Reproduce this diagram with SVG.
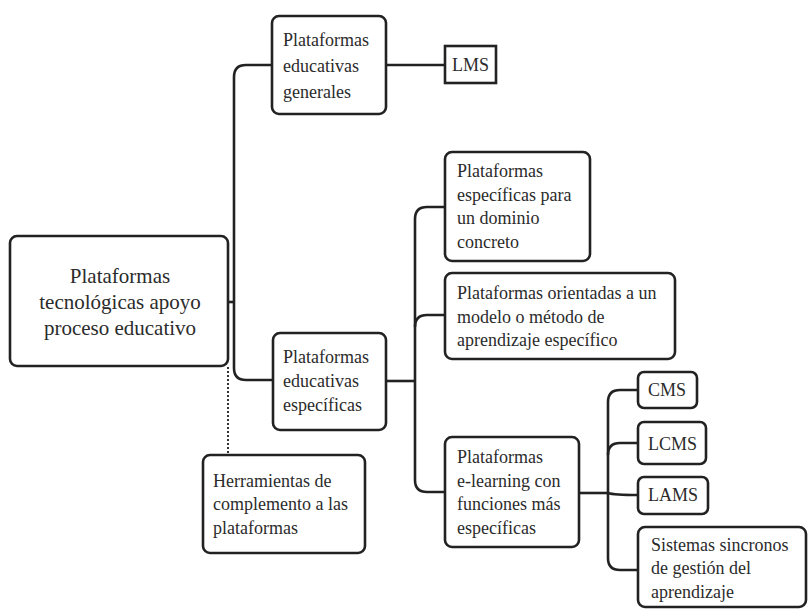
<svg xmlns="http://www.w3.org/2000/svg" width="812" height="610" viewBox="0 0 812 610">
<style>
.box{fill:#fff;stroke:#222;stroke-width:2.6}
.con{fill:none;stroke:#222;stroke-width:2.6}
.dot{fill:none;stroke:#333;stroke-width:2;stroke-dasharray:2 2}
text{font-family:"Liberation Serif","Times New Roman",serif;font-size:18px;fill:#2b2b2b}
.root{font-size:21px;text-anchor:middle}
</style>
<rect width="812" height="610" fill="#fff"/>
<g id="connectors">
<path class="con" d="M228,302 H234"/>
<path class="con" d="M273,65 H246 Q234,65 234,77 V368 Q234,380 246,380 H273"/>
<path class="dot" d="M228,367 V455"/>
<path class="con" d="M386,65 H445"/>
<path class="con" d="M386,381 H415"/>
<path class="con" d="M445,207 H427 Q415,207 415,219 V480 Q415,492 427,492 H445"/>
<path class="con" d="M445,315 H427 Q415,315 415,327"/>
<path class="con" d="M579,493 H608"/>
<path class="con" d="M638,390 H620 Q608,390 608,402 V558 Q608,570 620,570 H638"/>
<path class="con" d="M638,443 H620 Q608,443 608,455"/>
<path class="con" d="M608,493 Q614,495 638,495"/>
</g>
<g id="root">
<rect class="box" x="10" y="236" width="218" height="130" rx="7"/>
<text class="root" x="120" y="283">Plataformas</text>
<text class="root" x="120" y="309">tecnológicas apoyo</text>
<text class="root" x="120" y="335">proceso educativo</text>
</g>
<g id="generales">
<rect class="box" x="272" y="16" width="114" height="98" rx="7"/>
<text x="283" y="46">Plataformas</text>
<text x="283" y="72">educativas</text>
<text x="283" y="98">generales</text>
</g>
<g id="lms">
<rect class="box" x="445" y="46" width="51" height="37"/>
<text x="470.5" y="71" text-anchor="middle">LMS</text>
</g>
<g id="especificas">
<rect class="box" x="273" y="333" width="113" height="97" rx="7"/>
<text x="283" y="363">Plataformas</text>
<text x="283" y="387">educativas</text>
<text x="283" y="411">específicas</text>
</g>
<g id="herramientas">
<rect class="box" x="203" y="455" width="162" height="98" rx="7"/>
<text x="213" y="487">Herramientas de</text>
<text x="213" y="510">complemento a las</text>
<text x="213" y="534">plataformas</text>
</g>
<g id="dominio">
<rect class="box" x="445" y="152" width="145" height="109" rx="7"/>
<text x="457" y="177">Plataformas</text>
<text x="457" y="201">específicas para</text>
<text x="457" y="224">un dominio</text>
<text x="457" y="248">concreto</text>
</g>
<g id="orientadas">
<rect class="box" x="445" y="273" width="230" height="86" rx="7"/>
<text x="457" y="299">Plataformas orientadas a un</text>
<text x="457" y="323">modelo o método de</text>
<text x="457" y="346">aprendizaje específico</text>
</g>
<g id="elearning">
<rect class="box" x="445" y="437" width="134" height="110" rx="7"/>
<text x="457" y="463">Plataformas</text>
<text x="457" y="487">e-learning con</text>
<text x="457" y="510">funciones más</text>
<text x="457" y="534">específicas</text>
</g>
<g id="cms">
<rect class="box" x="638" y="372" width="59" height="36" rx="6"/>
<text x="648" y="396">CMS</text>
</g>
<g id="lcms">
<rect class="box" x="638" y="422" width="68" height="42" rx="6"/>
<text x="648" y="450">LCMS</text>
</g>
<g id="lams">
<rect class="box" x="638" y="477" width="70" height="37" rx="6"/>
<text x="648" y="501">LAMS</text>
</g>
<g id="sistemas">
<rect class="box" x="638" y="527" width="168" height="80" rx="7"/>
<text x="651" y="551">Sistemas sincronos</text>
<text x="651" y="574">de gestión del</text>
<text x="651" y="598">aprendizaje</text>
</g>
</svg>
